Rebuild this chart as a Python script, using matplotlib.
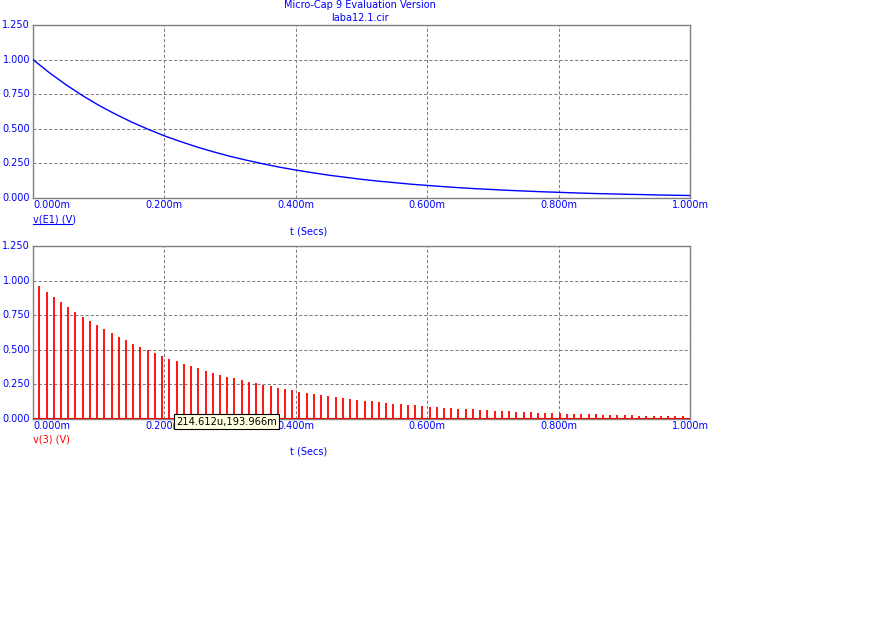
import matplotlib
matplotlib.use("Agg")
import matplotlib.pyplot as plt
from matplotlib.lines import Line2D

# ---------------- data ----------------
# top panel: v(E1) (V) vs time (ms)
t_top = [0.000, 0.025, 0.050, 0.075, 0.100, 0.125, 0.150, 0.175, 0.200, 0.225,
         0.250, 0.275, 0.300, 0.325, 0.350, 0.375, 0.400, 0.425, 0.450, 0.475,
         0.500, 0.525, 0.550, 0.575, 0.600, 0.625, 0.650, 0.675, 0.700, 0.725,
         0.750, 0.775, 0.800, 0.825, 0.850, 0.875, 0.900, 0.925, 0.950, 0.975, 1.000]
v_e1 = [1.000, 0.905, 0.819, 0.741, 0.670, 0.607, 0.549, 0.497, 0.449, 0.407,
        0.368, 0.333, 0.301, 0.273, 0.247, 0.223, 0.202, 0.183, 0.165, 0.150,
        0.135, 0.122, 0.111, 0.100, 0.091, 0.082, 0.074, 0.067, 0.061, 0.055,
        0.050, 0.045, 0.041, 0.037, 0.033, 0.030, 0.027, 0.025, 0.022, 0.020, 0.018]

# bottom panel: sampled pulses v(3) (V)
t_pulse = [0.0096, 0.0206, 0.0316, 0.0426, 0.0536, 0.0646, 0.0756, 0.0866, 0.0976, 0.1086,
           0.1196, 0.1306, 0.1416, 0.1526, 0.1636, 0.1746, 0.1856, 0.1966, 0.2076, 0.2186,
           0.2296, 0.2406, 0.2516, 0.2626, 0.2736, 0.2846, 0.2956, 0.3066, 0.3176, 0.3286,
           0.3396, 0.3506, 0.3616, 0.3726, 0.3836, 0.3946, 0.4056, 0.4166, 0.4276, 0.4386,
           0.4496, 0.4606, 0.4716, 0.4826, 0.4936, 0.5046, 0.5156, 0.5266, 0.5376, 0.5486,
           0.5596, 0.5706, 0.5816, 0.5926, 0.6036, 0.6146, 0.6256, 0.6366, 0.6476, 0.6586,
           0.6696, 0.6806, 0.6916, 0.7026, 0.7136, 0.7246, 0.7356, 0.7466, 0.7576, 0.7686,
           0.7796, 0.7906, 0.8016, 0.8126, 0.8236, 0.8346, 0.8456, 0.8566, 0.8676, 0.8786,
           0.8896, 0.9006, 0.9116, 0.9226, 0.9336, 0.9446, 0.9556, 0.9666, 0.9776, 0.9886]
v_3 = [0.962, 0.921, 0.881, 0.843, 0.807, 0.772, 0.739, 0.707, 0.677, 0.648,
       0.620, 0.593, 0.568, 0.543, 0.520, 0.497, 0.476, 0.455, 0.436, 0.417,
       0.399, 0.382, 0.366, 0.350, 0.335, 0.320, 0.307, 0.293, 0.281, 0.269,
       0.257, 0.246, 0.235, 0.225, 0.216, 0.206, 0.197, 0.189, 0.181, 0.173,
       0.166, 0.158, 0.152, 0.145, 0.139, 0.133, 0.127, 0.122, 0.116, 0.111,
       0.107, 0.102, 0.098, 0.093, 0.089, 0.086, 0.082, 0.078, 0.075, 0.072,
       0.069, 0.066, 0.063, 0.060, 0.058, 0.055, 0.053, 0.050, 0.048, 0.046,
       0.044, 0.042, 0.040, 0.039, 0.037, 0.036, 0.034, 0.033, 0.031, 0.030,
       0.028, 0.027, 0.026, 0.025, 0.024, 0.023, 0.022, 0.021, 0.020, 0.019]

x_ticks = [0.0, 0.2, 0.4, 0.6, 0.8, 1.0]
x_labels = ["0.000m", "0.200m", "0.400m", "0.600m", "0.800m", "1.000m"]
y_ticks = [0.0, 0.25, 0.5, 0.75, 1.0, 1.25]
y_labels = ["0.000", "0.250", "0.500", "0.750", "1.000", "1.250"]

title1 = "Micro-Cap 9 Evaluation Version"
title2 = "laba12.1.cir"
cursor_text = "214.612u,193.966m"

# ---------------- layout ----------------
W, H = 878, 619
fig = plt.figure(figsize=(W / 100, H / 100), dpi=100)
fig.patch.set_facecolor("white")

BLUE = "#0000ff"
GRAY = "#808080"
FS = 7

def fx(px):
    return px / W

def fy(py):
    return 1 - py / H

def make_axes(left, top, right, bottom):
    ax = fig.add_axes([fx(left), fy(bottom), fx(right - left), (bottom - top) / H])
    ax.set_xlim(0, 1.0)
    ax.set_ylim(0, 1.25)
    for s in ax.spines.values():
        s.set_color(GRAY)
        s.set_linewidth(1.0)
    ax.set_xticks(x_ticks)
    ax.set_yticks(y_ticks)
    ax.set_xticklabels([])
    ax.set_yticklabels([])
    ax.tick_params(length=0)
    ax.grid(True, color=GRAY, linestyle=(0, (3, 2)), linewidth=0.75)
    ax.set_axisbelow(True)
    return ax

L, R = 33, 690
ax1 = make_axes(L, 25, R, 198)
ax2 = make_axes(L, 246, R, 419)

ax1.plot(t_top, v_e1, color=BLUE, linewidth=1.0, zorder=3)

ax2.vlines(t_pulse, 0, v_3, color="#ff0000", linewidth=1.3, zorder=3)
ax2.axhline(0, color="#ff0000", linewidth=1.5, zorder=3)

# tick labels as texts (first x label left-aligned, rest centered)
def tick_texts(top, bottom, xlab_y):
    for v, lab in zip(y_ticks, y_labels):
        py = bottom - (bottom - top) * v / 1.25
        fig.text(fx(30), fy(py), lab, ha="right", va="center", color=BLUE, fontsize=FS)
    for i, (v, lab) in enumerate(zip(x_ticks, x_labels)):
        px = L + (R - L) * v / 1.0
        ha = "left" if i == 0 else "center"
        fig.text(fx(px), fy(xlab_y), lab, ha=ha, va="center", color=BLUE, fontsize=FS)

tick_texts(25, 198, 205)
tick_texts(246, 419, 426)

# titles
fig.text(fx(360), fy(5), title1, ha="center", va="center", color=BLUE, fontsize=FS)
fig.text(fx(360), fy(18), title2, ha="center", va="center", color=BLUE, fontsize=FS)

# axis labels
fig.text(fx(33), fy(219), "v(E1) (V)", ha="left", va="center", color=BLUE, fontsize=FS)
fig.add_artist(Line2D([fx(33), fx(72)], [fy(224), fy(224)], color=BLUE, linewidth=0.8))
fig.text(fx(309), fy(231), "t (Secs)", ha="center", va="center", color=BLUE, fontsize=FS)
fig.text(fx(33), fy(440), "v(3) (V)", ha="left", va="center", color="#ff0000", fontsize=FS)
fig.text(fx(309), fy(452), "t (Secs)", ha="center", va="center", color=BLUE, fontsize=FS)

# cursor tooltip
fig.text(fx(176), fy(421.5), cursor_text, ha="left", va="center", color="black",
         fontsize=7.1, zorder=10,
         bbox=dict(boxstyle="square,pad=0.25", facecolor="#ffffe1", edgecolor="black", linewidth=0.8))

fig.savefig("out.png", dpi=100, facecolor="white")
